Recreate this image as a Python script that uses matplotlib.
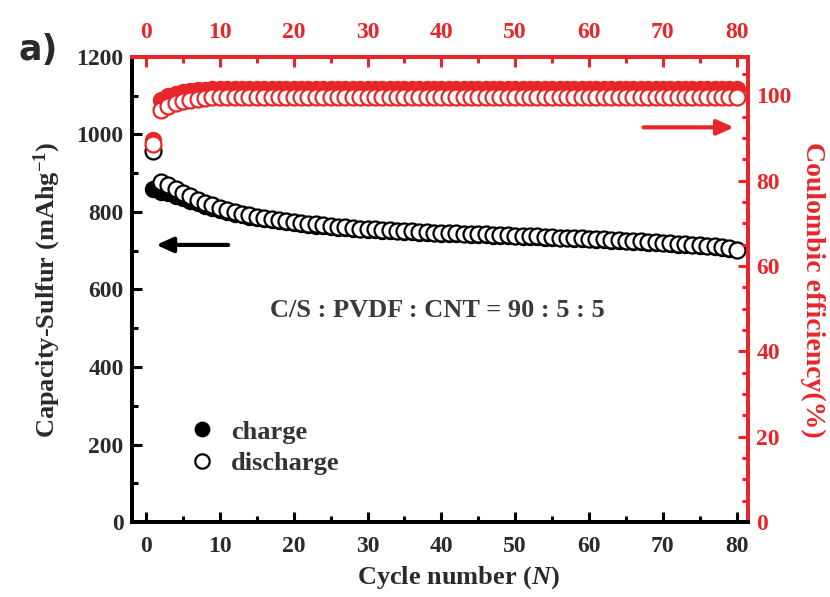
import numpy as np
import matplotlib
matplotlib.use("Agg")
import matplotlib.pyplot as plt
from matplotlib.ticker import MultipleLocator

cycles = list(range(1, 81))
discharge = [958, 878, 870, 860, 850, 841, 832, 824, 817, 811,
             805, 800, 796, 792, 788, 785, 782, 779, 776, 774,
             772, 770, 768, 766, 764, 762, 760, 759, 757, 756,
             755, 754, 753, 752, 751, 750, 749, 748, 747, 746,
             745, 745, 744, 743, 742, 742, 741, 740, 740, 739,
             738, 737, 737, 736, 735, 734, 734, 733, 732, 731,
             730, 729, 728, 727, 726, 725, 724, 723, 722, 721,
             720, 718, 717, 716, 714, 713, 711, 709, 707, 703]
charge = [858, 852, 848, 842, 836, 829, 822, 816, 810, 805,
          800, 796, 792, 788, 785, 782, 779, 776, 773, 771,
          769, 767, 765, 763, 761, 759, 758, 756, 755, 754,
          753, 752, 751, 750, 749, 748, 747, 746, 745, 744,
          743, 743, 742, 741, 740, 740, 739, 738, 738, 737,
          736, 735, 735, 734, 733, 732, 732, 731, 730, 729,
          728, 727, 726, 725, 724, 723, 722, 721, 720, 719,
          718, 716, 715, 714, 712, 711, 709, 707, 705, 701]
ce_open = [88.5, 96.5, 97.5, 98.2, 98.7, 99.0, 99.2, 99.4, 99.5, 99.6,
           99.6, 99.6, 99.7, 99.7, 99.7, 99.7, 99.7, 99.7, 99.7, 99.7,
           99.7, 99.7, 99.7, 99.7, 99.7, 99.7, 99.7, 99.7, 99.7, 99.7,
           99.7, 99.7, 99.7, 99.7, 99.7, 99.7, 99.7, 99.7, 99.7, 99.7,
           99.7, 99.7, 99.7, 99.7, 99.7, 99.7, 99.7, 99.7, 99.7, 99.7,
           99.7, 99.7, 99.7, 99.7, 99.7, 99.7, 99.7, 99.7, 99.7, 99.7,
           99.7, 99.7, 99.7, 99.7, 99.7, 99.7, 99.7, 99.7, 99.7, 99.7,
           99.7, 99.7, 99.7, 99.7, 99.7, 99.7, 99.7, 99.7, 99.7, 99.7]
ce_fill = [89.5, 99.0, 99.8, 100.3, 100.7, 101.0, 101.2, 101.3, 101.4, 101.4,
           101.4, 101.4, 101.4, 101.4, 101.4, 101.4, 101.4, 101.4, 101.4, 101.4,
           101.4, 101.4, 101.4, 101.4, 101.4, 101.4, 101.4, 101.4, 101.4, 101.4,
           101.4, 101.4, 101.4, 101.4, 101.4, 101.4, 101.4, 101.4, 101.4, 101.4,
           101.4, 101.4, 101.4, 101.4, 101.4, 101.4, 101.4, 101.4, 101.4, 101.4,
           101.4, 101.4, 101.4, 101.4, 101.4, 101.4, 101.4, 101.4, 101.4, 101.4,
           101.4, 101.4, 101.4, 101.4, 101.4, 101.4, 101.4, 101.4, 101.4, 101.4,
           101.4, 101.4, 101.4, 101.4, 101.4, 101.4, 101.4, 101.4, 101.4, 101.4]

RED = '#e8262a'
INK = '#2a2a2a'
plt.rcParams['font.family'] = 'Liberation Serif'
plt.rcParams['font.weight'] = 'bold'
plt.rcParams['mathtext.fontset'] = 'custom'
plt.rcParams['mathtext.rm'] = 'Liberation Serif:bold'
plt.rcParams['mathtext.it'] = 'Liberation Serif:bold:italic'
plt.rcParams['mathtext.bf'] = 'Liberation Serif:bold'

fig = plt.figure(figsize=(8.3, 5.97), dpi=100)
ax = fig.add_axes([0.159, 0.1256, 0.742, 0.779])
ax2 = ax.twinx()

ax.plot(cycles, charge, 'o', ms=11.5, color='black', mec='black', label='charge')
ax.plot(cycles, discharge, 'o', ms=11.5, mfc='white', mec='black', mew=1.6, label='discharge')
ax2.plot(cycles, ce_fill, 'o', ms=11.5, color=RED)
ax2.plot(cycles, ce_open, 'o', ms=11.5, mfc='white', mec=RED, mew=1.6)

ax.set_xlim(-1.9, 81.5)
ax.set_ylim(0, 1200)
ax2.set_ylim(0, 109)

ax.xaxis.set_major_locator(MultipleLocator(10))
ax.xaxis.set_minor_locator(MultipleLocator(5))
ax.yaxis.set_major_locator(MultipleLocator(200))
ax.yaxis.set_minor_locator(MultipleLocator(100))
ax2.yaxis.set_major_locator(MultipleLocator(20))
ax2.yaxis.set_minor_locator(MultipleLocator(5))

ax.tick_params(axis='both', which='both', direction='in', width=2.2, labelsize=17,
               colors='black', labelcolor=INK, pad=6)
ax.tick_params(axis='x', which='both', pad=10)
ax.tick_params(which='major', length=7)
ax.tick_params(which='minor', length=4)
ax2.tick_params(axis='y', which='both', direction='in', width=2.2, colors=RED,
                labelsize=17, pad=6)
ax2.tick_params(which='major', length=7)
ax2.tick_params(which='minor', length=4)

secx = ax.secondary_xaxis('top')
secx.xaxis.set_major_locator(MultipleLocator(10))
secx.xaxis.set_minor_locator(MultipleLocator(5))
secx.tick_params(which='both', direction='in', width=2.2, colors=RED, labelsize=17, pad=10)
secx.tick_params(which='major', length=7)
secx.tick_params(which='minor', length=4)
secx.spines['top'].set_color(RED)
secx.spines['top'].set_linewidth(2.8)

for a in (ax, ax2):
    a.spines['left'].set_color('black')
    a.spines['bottom'].set_color('black')
    a.spines['right'].set_color(RED)
    a.spines['top'].set_color(RED)
    for s in a.spines.values():
        s.set_linewidth(2.8)

ax.set_xlabel('Cycle number ($\\it{N}$)', fontsize=19, fontweight='bold', color=INK, labelpad=6)
ax.xaxis.set_label_coords(0.53, -0.09)
ax.set_ylabel('Capacity-Sulfur (mAhg$^{-1}$)', fontsize=19, fontweight='bold', color=INK, labelpad=10)
ax2.set_ylabel('Coulombic efficiency(%)', fontsize=20, fontweight='bold', color=RED,
               rotation=270, labelpad=24)

ax.text(39.5, 547, 'C/S : PVDF : CNT = 90 : 5 : 5', ha='center', va='center',
        fontsize=19, fontweight='bold', color='#3a3a3a')

ax.legend(loc='lower left', bbox_to_anchor=(0.05, 0.05), frameon=False, fontsize=19,
          handletextpad=0.5, labelspacing=0.3, markerscale=0.9, handlelength=1.2,
          labelcolor='#333333')

ax.annotate('', xy=(1.0, 715), xytext=(11.5, 715),
            arrowprops=dict(arrowstyle='-|>,head_length=1.0,head_width=0.45', color='black', lw=3))
ax2.annotate('', xy=(80.0, 92.5), xytext=(67.0, 92.5),
             arrowprops=dict(arrowstyle='-|>,head_length=1.0,head_width=0.45', color=RED, lw=3))

fig.text(0.022, 0.90, 'a)', fontsize=25, fontweight='bold', family='DejaVu Sans', color=INK)

fig.savefig('out.png', dpi=100)
